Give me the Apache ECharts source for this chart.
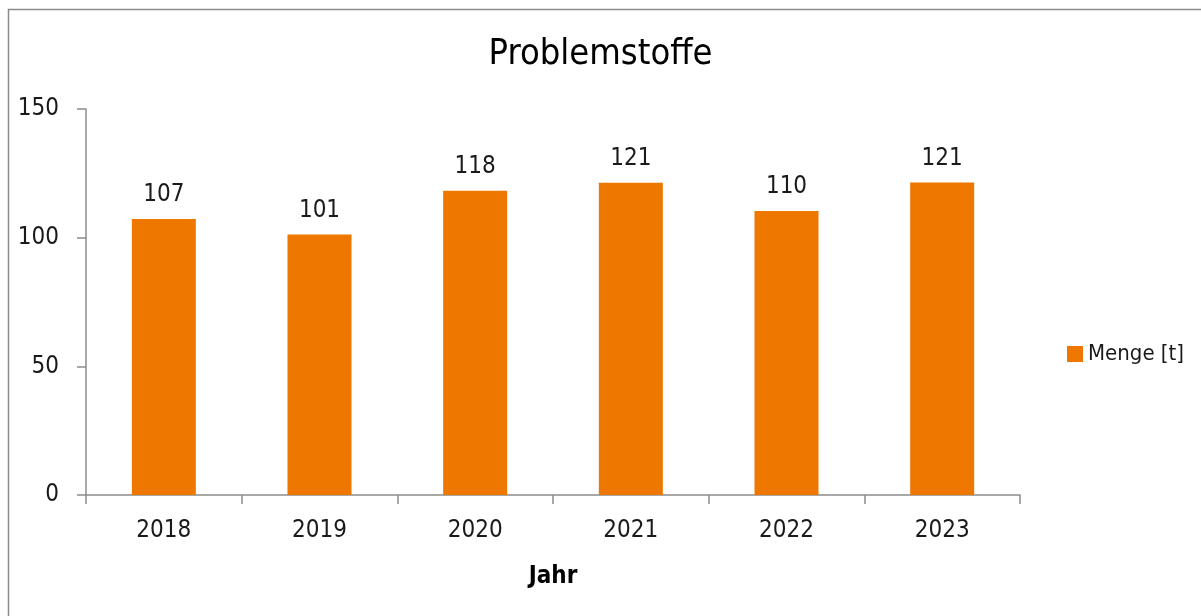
<!DOCTYPE html>
<html>
<head>
<meta charset="utf-8">
<script src="https://cdn.jsdelivr.net/npm/echarts@6/dist/echarts.min.js"></script>
<style>
  html, body { margin: 0; padding: 0; background: #fff; }
  #chart { width: 1201px; height: 616px; }
</style>
</head>
<body>
<div id="chart"></div>
<script>
// Daten
const years = ['2018', '2019', '2020', '2021', '2022', '2023']
const menge = [107.3, 101.2, 118.2, 121.3, 110.4, 121.4]
const yTicks = [0, 50, 100, 150]

const font = '"DejaVu Sans Condensed", "Liberation Sans Narrow", sans-serif'
const axisGray = '#8c8c8c'

const chart = echarts.init(document.getElementById('chart'))

const option = {
    animation: false,
    textStyle: { fontFamily: font, color: '#1a1a1a' },
    title: {
        text: 'Problemstoffe',
        left: 'center',
        top: 32,
        textStyle: { fontFamily: font, fontSize: 36, fontWeight: 'normal', color: '#000' }
    },
    legend: {
        data: ['Menge [t]'],
        orient: 'vertical',
        left: 1062,
        top: 338,
        icon: 'rect',
        itemWidth: 16,
        itemHeight: 16,
        itemGap: 0,
        textStyle: { fontFamily: font, fontSize: 22, color: '#1a1a1a' }
    },
    grid: { left: 86, right: 181, top: 109, bottom: 121, containLabel: false },
    xAxis: {
        type: 'category',
        data: years,
        name: 'Jahr',
        nameLocation: 'middle',
        nameGap: 70,
        nameTextStyle: { fontFamily: font, fontSize: 24, fontWeight: 'bold', color: '#000' },
        axisLine: { lineStyle: { color: axisGray, width: 1.5 } },
        axisTick: { show: true, length: 9, lineStyle: { color: axisGray, width: 1.5 } },
        axisLabel: { fontFamily: font, fontSize: 24, color: '#1a1a1a', margin: 24 }
    },
    yAxis: {
        type: 'value',
        min: yTicks[0],
        max: yTicks[yTicks.length - 1],
        interval: yTicks[1] - yTicks[0],
        axisLine: { show: true, lineStyle: { color: axisGray, width: 1.5 } },
        axisTick: { show: true, length: 9, lineStyle: { color: axisGray, width: 1.5 } },
        splitLine: { show: false },
        axisLabel: { fontFamily: font, fontSize: 24, color: '#1a1a1a', margin: 27 }
    },
    series: [{
        name: 'Menge [t]',
        type: 'bar',
        data: menge,
        barWidth: 64,
        itemStyle: { color: '#ee7700' },
        label: {
            show: true,
            position: 'top',
            distance: 12,
            fontFamily: font,
            fontSize: 24,
            color: '#1a1a1a',
            formatter: p => Math.round(p.value)
        }
    }],
    graphic: [{
        type: 'rect',
        left: 6,
        top: 7,
        shape: { width: 1300, height: 700 },
        style: { fill: 'none', stroke: '#8a8a8a', lineWidth: 1.5 },
        silent: true,
        z: -1
    }]
}

chart.setOption(option)
</script>
</body>
</html>
